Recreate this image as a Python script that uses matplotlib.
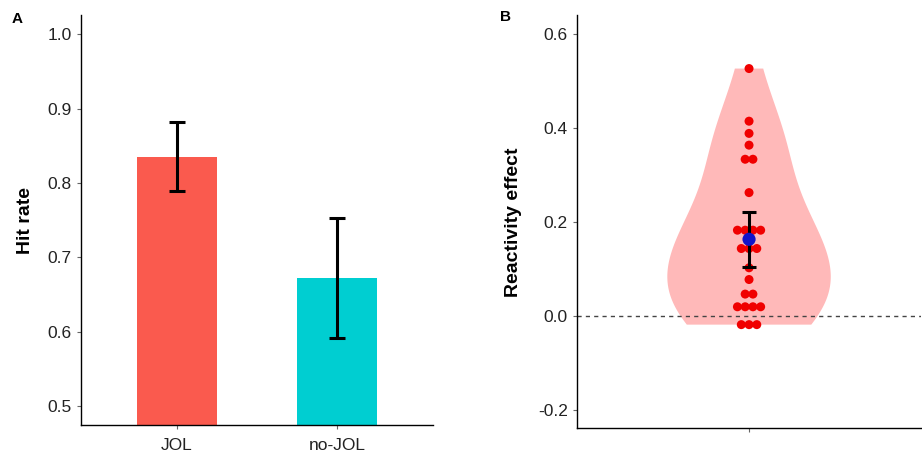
import numpy as np
import matplotlib
matplotlib.use("Agg")
import matplotlib.pyplot as plt

plt.rcParams['font.family'] = ['Liberation Sans', 'DejaVu Sans']

# panel A: hit rate per condition
conditions = ['JOL', 'no-JOL']
hit_rate = [0.835, 0.672]
hit_lo = [0.789, 0.592]
hit_hi = [0.882, 0.753]
bar_colors = ['#FA5A4E', '#00CED1']

# panel B: per-participant reactivity effect (JOL - no-JOL)
reactivity = [0.527, 0.415, 0.389, 0.364, 0.334, 0.334, 0.263,
              0.183, 0.183, 0.183, 0.183, 0.144, 0.144, 0.144,
              0.103, 0.078, 0.047, 0.047,
              0.020, 0.020, 0.020, 0.020, -0.018, -0.018, -0.018]
effect_ci = [0.105, 0.222]

tick_kw = dict(length=3, width=0.8, color='#666666', labelcolor='#222222', labelsize=12.5)

fig = plt.figure(figsize=(9.22, 4.57), dpi=100)

# ---- A ----
axA = fig.add_axes([81/922, 1-425/457, (433-81)/922, (425-15)/457])
x = np.arange(len(conditions))
axA.bar(x, hit_rate, width=0.5, color=bar_colors, zorder=1)
err = [np.array(hit_rate) - np.array(hit_lo), np.array(hit_hi) - np.array(hit_rate)]
axA.errorbar(x, hit_rate, yerr=err, fmt='none', ecolor='black', elinewidth=2.2,
             capsize=5.5, capthick=2.2, zorder=3)
axA.set_xlim(-0.6, 1.6)
axA.set_ylim(0.4744, 1.026)
axA.set_xticks(x)
axA.set_xticklabels(conditions)
yt = [0.5, 0.6, 0.7, 0.8, 0.9, 1.0]
axA.set_yticks(yt)
axA.set_yticklabels(['%.1f' % v for v in yt])
axA.tick_params(**tick_kw)
axA.tick_params(axis='x', pad=6)

# ---- B ----
axB = fig.add_axes([577/922, 1-428/457, (922-577)/922 - 0.001, (428-15)/457])
vp = axB.violinplot([reactivity], positions=[1], widths=0.57,
                    bw_method=0.62, points=300, showextrema=False)
for body in vp['bodies']:
    body.set_facecolor('#FFB9B9')
    body.set_edgecolor('none')
    body.set_alpha(1)
    body.set_zorder(1)

axB.axhline(0, color='#444444', lw=1, linestyle=(0, (3, 3)), zorder=2)

# centred dot stacks
vals, counts = np.unique(reactivity, return_counts=True)
spacing = 0.027
for v, k in zip(vals, counts):
    offs = (np.arange(k) - (k - 1) / 2) * spacing
    axB.scatter(1 + offs, [v] * k, s=42, color='#F00000', edgecolors='none', zorder=3)

mean_effect = np.mean(reactivity)
axB.errorbar([1], [mean_effect],
             yerr=[[mean_effect - effect_ci[0]], [effect_ci[1] - mean_effect]],
             fmt='none', ecolor='black', elinewidth=2.2, capsize=5, capthick=2.2, zorder=4)
axB.scatter([1], [mean_effect], s=90, color='#1212C8', edgecolors='none', zorder=5)

axB.set_xlim(0.4, 1.6)
axB.set_ylim(-0.238, 0.641)
axB.set_xticks([1])
axB.set_xticklabels([''])
ytb = [-0.2, 0.0, 0.2, 0.4, 0.6]
axB.set_yticks(ytb)
axB.set_yticklabels(['%.1f' % v for v in ytb])
axB.tick_params(**tick_kw)

for ax in (axA, axB):
    for s in ('top', 'right'):
        ax.spines[s].set_visible(False)
    for s in ('left', 'bottom'):
        ax.spines[s].set_color('black')
        ax.spines[s].set_linewidth(1.0)

fig.text(25/922, 1-221/457, 'Hit rate', rotation=90, ha='center', va='center',
         fontsize=14, fontweight='bold')
fig.text(513/922, 1-222/457, 'Reactivity effect', rotation=90, ha='center', va='center',
         fontsize=14, fontweight='bold')
fig.text(17/922, 1-19/457, 'A', ha='center', va='center', fontsize=11, fontweight='bold')
fig.text(505/922, 1-17/457, 'B', ha='center', va='center', fontsize=11, fontweight='bold')

fig.savefig('out.png', dpi=100)
